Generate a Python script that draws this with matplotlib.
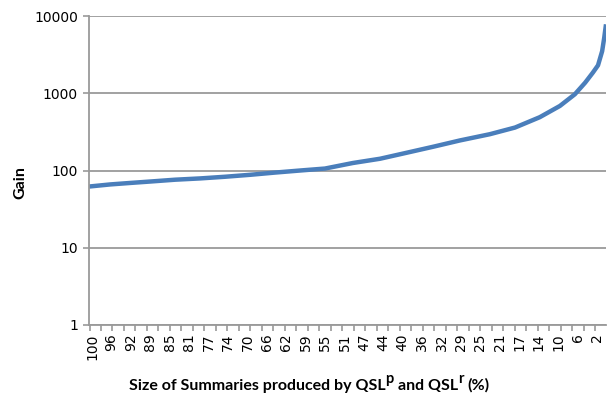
import numpy as np
import matplotlib
matplotlib.use("Agg")
import matplotlib.pyplot as plt
from matplotlib.ticker import FixedLocator, NullFormatter

# Wartosci (rozmiar podsumowania w %, zysk)
rozmiar = [100.6, 96.5, 92.6, 88.7, 83.9, 79.0, 74.2, 69.3, 64.5, 59.6,
           54.8, 49.4, 44.1, 38.9, 33.8, 28.6, 22.8, 17.9, 13.1, 9.2,
           6.3, 4.3, 2.8, 1.8, 1.0, 0.6, 0.25]
zysk = [62, 66, 69, 72, 76, 79, 83, 88, 94, 100,
        106, 125, 142, 170, 203, 245, 295, 360, 490, 685,
        970, 1370, 1850, 2300, 3500, 5200, 7800]

etykiety_x = ["100", "96", "92", "89", "85", "81", "77", "74", "70", "66", "62",
              "59", "55", "51", "47", "44", "40", "36", "32", "29", "25", "21",
              "17", "14", "10", "6", "2"]
etykiety_y = ["1", "10", "100", "1000", "10000"]

fig = plt.figure(figsize=(6.07, 4.0), dpi=100)
ax = fig.add_axes([89 / 607, 1 - 325 / 400, (606 - 89) / 607, (325 - 16) / 400])

szary = "#9a9a9a"
ax.plot(rozmiar, zysk, color="#4a7ebb", linewidth=3.2, solid_capstyle="butt")

ax.set_yscale("log")
ax.set_ylim(1, 10000)
ax.set_xlim(100.6, 0.25)

ax.yaxis.set_major_locator(FixedLocator([1, 10, 100, 1000, 10000]))
ax.yaxis.set_minor_locator(FixedLocator([]))
ax.set_yticklabels(etykiety_y, fontsize=10)
ax.grid(axis="y", color=szary, linewidth=1.3)
ax.set_axisbelow(True)

pozycje = 100 - np.arange(len(etykiety_x)) * 98 / 26
ax.xaxis.set_major_locator(FixedLocator(pozycje))
ax.set_xticklabels(etykiety_x, rotation=90, fontsize=10)
ax.xaxis.set_minor_locator(FixedLocator(np.arange(100.5, 0, -2.23)))
ax.xaxis.set_minor_formatter(NullFormatter())
ax.tick_params(axis="x", which="major", length=0, pad=6)
ax.tick_params(axis="x", which="minor", length=4, width=1.2, color=szary, direction="out")
ax.tick_params(axis="y", length=4, width=1.2, color=szary, pad=4)

for strona in ["top", "right"]:
    ax.spines[strona].set_visible(False)
for strona in ["left", "bottom"]:
    ax.spines[strona].set_color(szary)
    ax.spines[strona].set_linewidth(1.3)

# Podpis osi X skladany z kawalkow (duze indeksy gorne jak w Excelu)
kawalki = [("Size of Summaries produced by QSL", False), ("p", True),
           ("and QSL", False), ("r", True), ("(%)", False)]
renderer = fig.canvas.get_renderer()
teksty = []
szer = 0
for i, (tresc, gora) in enumerate(kawalki):
    t = fig.text(0, 0, tresc, fontsize=10.5 if gora else 11.5, fontweight="bold",
                 family="Lato", ha="left", va="baseline")
    w = t.get_window_extent(renderer).width + (4 if gora else 0)
    teksty.append((t, gora, w))
    szer += w
x0 = 309 - szer / 2
for t, gora, w in teksty:
    y = 390 - (7 if gora else 0)
    t.set_position((x0 / 607, 1 - y / 400))
    x0 += w

fig.text(20 / 607, 1 - 183 / 400, "Gain", rotation=90, ha="center", va="center",
         fontsize=11.5, fontweight="bold", family="Lato")

fig.savefig("out.png", dpi=100)
